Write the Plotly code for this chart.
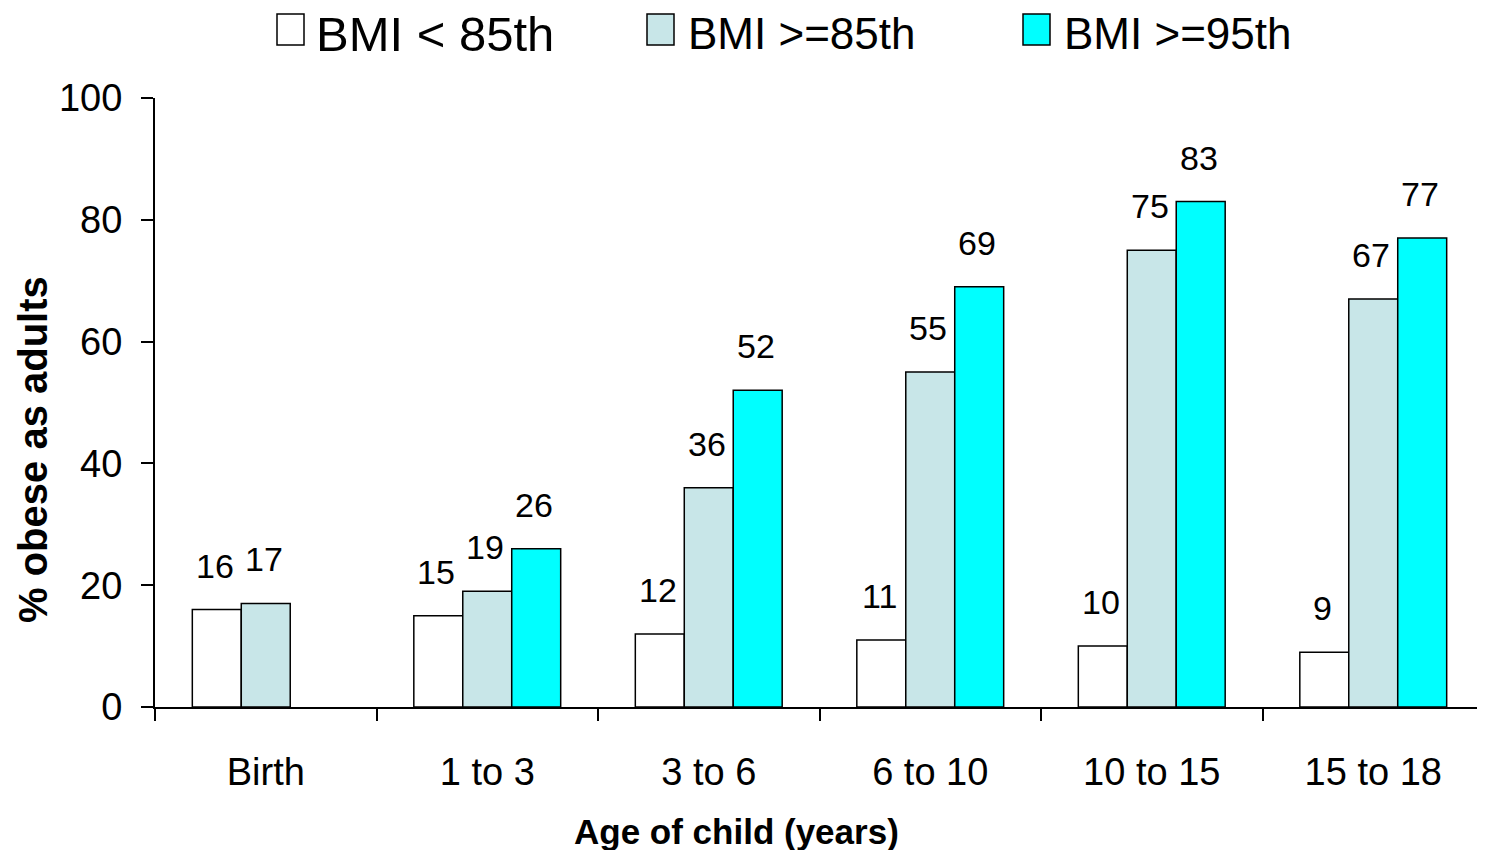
import plotly.graph_objects as go

categories = ["Birth", "1 to 3", "3 to 6", "6 to 10", "10 to 15", "15 to 18"]
series_names = ["BMI < 85th", "BMI >=85th", "BMI >=95th"]
bmi_lt85 = [16, 15, 12, 11, 10, 9]
bmi_ge85 = [17, 19, 36, 55, 75, 67]
bmi_ge95 = [None, 26, 52, 69, 83, 77]
colors = ["#FFFFFF", "#C8E6E8", "#00FFFF"]
legend_font_sizes = [49, 44, 44]

# page has an 8px body margin; figure sized to fit the window
OFF = 8
W, H = 1477, 842
L, R, T, B = 147, 1, 90, 143
bargap = 0.337

plot_w = W - L - R
plot_h = H - T - B


def px(xpage):
    return (xpage - OFF - L) / plot_w


def py(ypage):
    return (H - B - (ypage - OFF)) / plot_h


fig = go.Figure()
all_series = [bmi_lt85, bmi_ge85, bmi_ge95]
for name, vals, col in zip(series_names, all_series, colors):
    fig.add_trace(go.Bar(
        x=categories, y=vals, name=name,
        marker=dict(color=col, line=dict(color="black", width=1.5)),
        showlegend=False, hoverinfo="skip",
    ))

cat_w = plot_w / len(categories)
bar_w = cat_w * (1 - bargap) / 3
font_family = "Liberation Sans, Arial, sans-serif"
for i, vals in enumerate(all_series):
    for c, v in zip(categories, vals):
        if v is None:
            continue
        fig.add_annotation(
            x=c, y=v, text=str(v), showarrow=False,
            xshift=(i - 1) * bar_w - 2, yshift=44, yanchor="middle",
            font=dict(size=34, color="black", family=font_family),
        )

# custom legend (large boxes)
legend_box_x = [277, 647, 1023]
legend_text_x = [314, 686, 1062]
for name, col, bx, tx, fs in zip(series_names, colors, legend_box_x, legend_text_x, legend_font_sizes):
    fig.add_shape(
        type="rect", xref="paper", yref="paper",
        x0=px(bx), x1=px(bx + 27),
        y0=py(45), y1=py(14),
        fillcolor=col, line=dict(color="black", width=1.5),
    )
    fig.add_annotation(
        xref="paper", yref="paper",
        x=px(tx), y=py(34),
        xanchor="left", yanchor="middle", text=name, showarrow=False,
        font=dict(size=fs, color="black", family=font_family),
    )

# axis titles
fig.add_annotation(
    xref="paper", yref="paper", x=px(736), y=py(831),
    xanchor="center", yanchor="middle", showarrow=False,
    text="<b>Age of child (years)</b>",
    font=dict(size=35, color="black", family=font_family),
)
fig.add_annotation(
    xref="paper", yref="paper", x=px(33), y=py(450),
    xanchor="center", yanchor="middle", showarrow=False, textangle=-90,
    text="<b>% obese as adults</b>",
    font=dict(size=40, color="black", family=font_family),
)

fig.update_layout(
    width=W, height=H,
    margin=dict(l=L, r=R, t=T, b=B),
    paper_bgcolor="white", plot_bgcolor="white",
    barmode="group", bargap=bargap, bargroupgap=0,
    font=dict(family=font_family, color="black"),
    showlegend=False,
)
fig.update_xaxes(
    showline=True, linecolor="black", linewidth=2,
    ticks="outside", tickson="boundaries", ticklen=12, tickwidth=2, tickcolor="black",
    tickfont=dict(size=38), ticklabelstandoff=30,
    showgrid=False, zeroline=False,
)
fig.update_yaxes(
    range=[0, 100], dtick=20,
    showline=True, linecolor="black", linewidth=2,
    ticks="outside", ticklen=12, tickwidth=2, tickcolor="black",
    tickfont=dict(size=38), ticklabelstandoff=11,
    showgrid=False, zeroline=False,
)

fig.write_html("out.html")
